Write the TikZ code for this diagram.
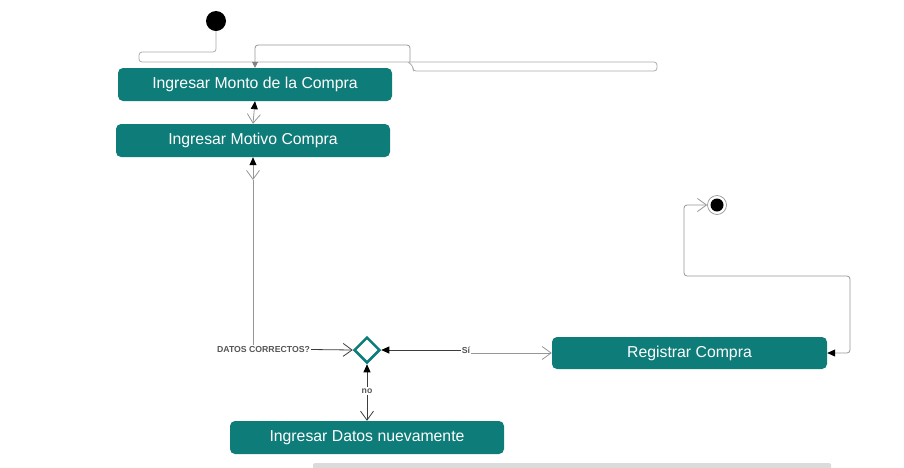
\documentclass[tikz,border=0pt]{standalone}
\usepackage{fontspec}
\setmainfont{Liberation Sans}
\usetikzlibrary{arrows.meta,shapes.geometric}
\definecolor{teal1}{RGB}{14,124,121}
\definecolor{lgray}{RGB}{150,150,150}
\definecolor{dgray}{RGB}{60,60,60}
\definecolor{lblgray}{RGB}{85,85,85}
\begin{document}
\begin{tikzpicture}[x=1pt,y=-1pt,
  act/.style={rectangle,rounded corners=5pt,fill=teal1,text=white,minimum width=274pt,minimum height=33pt,inner sep=0pt,font=\fontsize{15.8}{18}\selectfont},
  lbl/.style={inner sep=1pt,text=lblgray,font=\fontsize{8.7}{10}\selectfont\bfseries},
  conn/.style={line width=0.8pt,draw=lgray},
  dconn/.style={line width=0.8pt,draw=dgray},
  fhead/.tip={Triangle[length=8pt,width=7pt,fill=black,color=black]},
  vhead/.tip={Straight Barb[length=9pt,width=13pt]},
  ghead/.tip={Triangle[length=6pt,width=6pt,fill=gray,color=gray]}
]
\useasboundingbox (0,0) rectangle (904,467);
% start / end
\node[circle,fill=black,minimum size=20pt,inner sep=0pt] (start) at (216,21) {};
\node[circle,draw=lgray,line width=0.7pt,fill=white,minimum size=19pt,inner sep=0pt] (fin) at (717,205) {};
\fill[black] (fin.center) circle (6.5pt);
% activities
\node[act] (monto) at (255,84.5) {Ingresar Monto de la Compra};
\node[act] (motivo) at (253,140.5) {Ingresar Motivo Compra};
\node[act,minimum width=275pt,minimum height=32pt] (reg) at (689.5,353) {Registrar Compra};
\node[act] (datos) at (367,437.5) {Ingresar Datos nuevamente};
% decision
\node[diamond,draw=teal1,line width=2.5pt,fill=white,minimum size=26pt,inner sep=0pt,aspect=1] (dia) at (367,350) {};
% labels
\node[lbl] (dc) at (263.5,349.5) {DATOS CORRECTOS?};
\node[lbl] (si) at (466,350) {Sí};
\node[lbl] (no) at (367,391) {no};
% top loop lines
\coordinate (j1) at (410,62);
\draw[conn,draw=lgray!80,rounded corners=3pt] (start.south) -- (216,52) -- (139,52) -- (139,62) -- (657,62) -- (657,71) -- (413,71) -- (413,66) -- (408,62);
\draw[conn,rounded corners=3pt,-ghead] (j1) -- (410,45) -- (255,45) -- (monto.north);
% monto <-> motivo
\draw[conn,fhead-vhead] (monto.south) -- (motivo.north);
% motivo down
\coordinate (mv) at (253,180);
\draw[conn,fhead-vhead] (motivo.south) -- (mv);
\draw[conn] (mv) -- (mv |- dc.north);
% to diamond
\draw[dconn,-vhead] (dc.east) -- (dia.west);
\draw[dconn,fhead-] (dia.east) -- (si.west);
\draw[conn,-vhead] (si.east |- reg.west) -- (reg.west);
\draw[dconn,fhead-] (dia.south) -- (no.north);
\draw[dconn,-vhead] (no.south) -- (datos.north);
% registrar to end
\draw[conn,rounded corners=3pt,fhead-vhead] (reg.east) -- (850,353) -- (850,276) -- (684,276) -- (684,205) -- (fin.west);
% bottom bar
\fill[black!14,rounded corners=1.5pt] (313,463) rectangle (831,470);
\end{tikzpicture}
\end{document}
